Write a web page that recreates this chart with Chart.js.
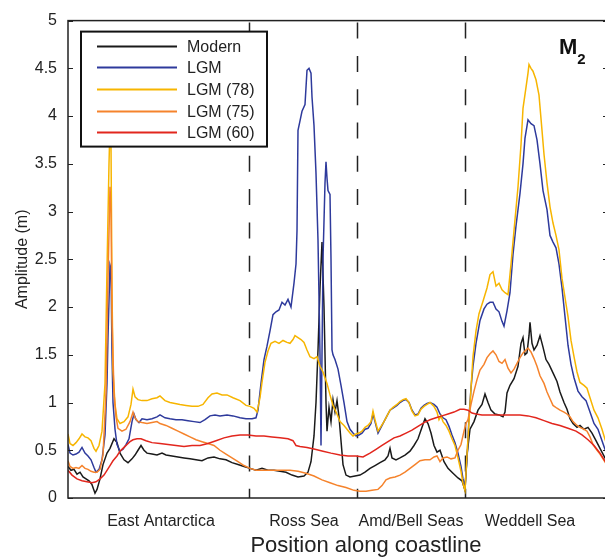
<!DOCTYPE html>
<html>
<head>
<meta charset="utf-8">
<script src="https://cdn.jsdelivr.net/npm/chart.js@4/dist/chart.umd.min.js"></script>
<style>
html, body { margin: 0; padding: 0; background: #fff; overflow: hidden; }
canvas { display: block; }
</style>
</head>
<body>
<canvas id="amplitude" width="612" height="560"></canvas>
<script>
/*------------------------------ dados ------------------------------*/

const regions = ['East Antarctica', 'Ross Sea', 'Amd/Bell Seas', 'Weddell Sea'];
const regionCenters = [93, 236, 343, 462];
const regionBounds = [181, 289, 397];

const yTicks = [0, 0.5, 1, 1.5, 2, 2.5, 3, 3.5, 4, 4.5, 5];
const yTickLabels = ['0', '0.5', '1', '1.5', '2', '2.5', '3', '3.5', '4', '4.5', '5'];

const seriesNames = ['Modern', 'LGM', 'LGM (78)', 'LGM (75)', 'LGM (60)'];

// [position along coastline, amplitude (m)]
const modern = [[0,.33],[3,.29],[6,.30],[9,.25],[12,.27],[15,.22],[18,.20],[21,.18],[24,.14],[27,.05],[29,.09],[32,.20],[35,.35],[39,.47],[42,.52],[46,.62],[49,.58],[52,.47],[56,.40],[60,.37],[64,.41],[67,.45],[70,.50],[73,.55],[76,.50],[79,.47],[84,.46],[89,.45],[94,.47],[98,.45],[104,.44],[110,.43],[116,.42],[122,.41],[128,.40],[134,.39],[140,.42],[146,.43],[152,.41],[158,.40],[164,.37],[170,.35],[176,.33],[182,.31],[188,.29],[194,.31],[200,.29],[206,.29],[212,.28],[218,.27],[224,.24],[230,.22],[236,.23],[240,.27],[243,.38],[246,.65],[248,1.0],[250,1.55],[252,2.2],[254,2.68],[256,2.0],[258,1.0],[259,.70],[261,.95],[263,.80],[265,1.03],[267,.90],[269,1.02],[271,.85],[273,.60],[275,.35],[278,.24],[282,.22],[287,.23],[292,.24],[297,.27],[302,.31],[307,.34],[312,.37],[317,.40],[320,.44],[322,.52],[324,.42],[328,.40],[332,.42],[337,.45],[342,.49],[346,.55],[350,.62],[354,.74],[357,.83],[360,.78],[363,.68],[366,.55],[369,.48],[372,.50],[376,.38],[380,.31],[385,.26],[390,.21],[394,.18],[397,.08],[399,.45],[402,.72],[406,.80],[410,.92],[414,.98],[417,1.09],[420,1.00],[423,.92],[427,.88],[431,.87],[435,.85],[437,.90],[439,1.10],[442,1.18],[446,1.25],[450,1.38],[453,1.62],[455,1.68],[457,1.50],[459,1.52],[461,1.70],[462,1.84],[464,1.62],[466,1.55],[469,1.60],[472,1.70],[475,1.58],[478,1.45],[481,1.40],[485,1.31],[489,1.22],[492,1.11],[496,1.00],[499,.93],[502,.83],[505,.78],[509,.74],[512,.76],[516,.72],[520,.74],[524,.68],[528,.60],[532,.52],[535,.46],[538,.40]];

const lgm = [[0,.56],[2,.47],[5,.45],[8,.46],[11,.48],[14,.53],[17,.47],[20,.44],[23,.40],[26,.32],[28,.27],[31,.30],[34,.40],[37,.66],[39,1.20],[40,1.69],[42,2.44],[43,2.40],[44,1.50],[45,1.00],[47,.72],[49,.56],[52,.49],[55,.51],[58,.56],[61,.62],[64,.80],[66,.88],[68,.82],[71,.79],[74,.83],[79,.82],[84,.83],[89,.85],[92,.87],[97,.84],[102,.83],[108,.82],[114,.82],[120,.81],[126,.80],[132,.79],[137,.82],[142,.86],[147,.87],[152,.86],[159,.87],[165,.86],[172,.84],[178,.83],[184,.83],[188,.84],[190,.92],[193,1.20],[196,1.45],[199,1.59],[202,1.75],[205,1.92],[208,1.95],[211,1.97],[214,2.05],[217,2.02],[220,2.08],[223,2.00],[226,2.25],[228,2.45],[229,2.80],[230,3.85],[232,3.95],[234,4.05],[237,4.12],[239,4.48],[241,4.50],[243,4.45],[244,4.20],[246,3.90],[248,3.40],[250,2.70],[252,1.50],[253,.55],[254,1.50],[255,2.50],[257,3.30],[258,3.52],[259,3.35],[260,3.22],[262,3.18],[263,2.50],[264,1.55],[265,1.50],[267,1.45],[270,1.35],[273,1.18],[276,1.00],[279,.80],[282,.72],[285,.68],[288,.65],[291,.66],[294,.68],[297,.72],[300,.73],[303,.78],[305,.88],[307,.80],[310,.68],[313,.74],[316,.80],[319,.86],[322,.92],[325,.94],[329,.97],[332,1.00],[335,1.02],[338,1.03],[341,1.00],[344,.92],[347,.87],[350,.88],[353,.94],[356,.97],[359,.99],[362,1.00],[366,.98],[369,.95],[372,.88],[375,.84],[378,.82],[381,.75],[384,.66],[387,.58],[390,.47],[393,.33],[395,.20],[397,.12],[399,.40],[401,.85],[403,1.15],[405,1.38],[408,1.62],[412,1.86],[416,1.98],[419,2.03],[422,2.05],[425,2.05],[428,1.98],[431,1.95],[434,1.85],[436,1.80],[439,1.96],[442,2.15],[445,2.55],[448,2.85],[452,3.19],[455,3.50],[457,3.77],[460,3.96],[463,3.92],[466,3.90],[469,3.75],[472,3.50],[475,3.22],[479,3.02],[482,2.75],[485,2.68],[488,2.62],[491,2.45],[494,2.20],[497,1.90],[500,1.60],[503,1.40],[506,1.26],[510,1.12],[514,1.06],[518,1.02],[522,.90],[526,.78],[530,.72],[534,.60],[538,.48]];

const lgm78 = [[0,.67],[2,.57],[5,.55],[8,.58],[11,.62],[14,.67],[17,.64],[20,.63],[23,.60],[26,.52],[28,.49],[31,.55],[34,.70],[37,1.20],[39,2.40],[41,3.50],[42,3.90],[43,3.70],[44,2.20],[45,1.34],[47,.98],[49,.83],[52,.78],[56,.80],[60,.85],[63,.98],[65,1.14],[67,1.06],[70,1.03],[74,1.02],[79,1.02],[84,1.04],[89,1.05],[92,1.07],[97,1.02],[102,1.00],[107,.99],[112,.98],[118,.97],[124,.96],[130,.96],[135,.98],[140,1.05],[144,1.09],[149,1.10],[154,1.08],[159,1.08],[165,1.05],[172,1.02],[178,.97],[182,.96],[186,.94],[189,.90],[192,1.05],[194,1.21],[197,1.42],[200,1.54],[203,1.62],[207,1.64],[211,1.62],[215,1.65],[219,1.63],[222,1.62],[225,1.66],[227,1.70],[230,1.68],[233,1.66],[236,1.63],[239,1.55],[242,1.48],[246,1.46],[249,1.48],[252,1.38],[255,1.32],[259,1.20],[262,1.08],[265,.97],[269,.88],[272,.80],[276,.76],[279,.72],[282,.68],[285,.65],[288,.67],[291,.68],[294,.70],[297,.74],[300,.76],[303,.80],[305,.91],[307,.82],[310,.70],[313,.75],[316,.80],[319,.86],[322,.92],[325,.95],[329,.98],[332,1.01],[335,1.03],[338,1.04],[341,1.00],[344,.91],[347,.86],[350,.87],[353,.93],[356,.96],[359,.98],[362,1.00],[366,.96],[369,.90],[371,.82],[373,.86],[375,.80],[378,.76],[381,.70],[384,.62],[387,.55],[390,.42],[393,.28],[395,.15],[397,.08],[399,.45],[401,.80],[403,1.15],[405,1.48],[408,1.75],[411,1.93],[415,2.06],[419,2.20],[422,2.34],[425,2.37],[428,2.22],[431,2.25],[434,2.18],[437,2.15],[440,2.13],[443,2.45],[446,2.80],[450,3.26],[453,3.70],[455,4.08],[458,4.30],[460,4.45],[461,4.54],[463,4.50],[465,4.47],[468,4.38],[471,4.22],[474,3.85],[476,3.60],[479,3.30],[482,3.05],[485,2.88],[488,2.75],[491,2.60],[494,2.30],[497,2.10],[500,1.90],[503,1.65],[506,1.48],[509,1.32],[512,1.21],[516,1.18],[519,1.15],[522,1.05],[526,.92],[530,.84],[534,.72],[538,.58]];

const lgm75 = [[0,.39],[2,.33],[5,.31],[8,.32],[11,.31],[14,.34],[17,.31],[20,.30],[23,.28],[26,.27],[29,.27],[32,.30],[35,.45],[38,1.10],[40,2.30],[42,3.26],[43,3.00],[44,1.90],[46,1.10],[48,.85],[50,.73],[54,.70],[58,.72],[62,.80],[65,.90],[67,.84],[70,.80],[74,.79],[79,.78],[84,.79],[89,.80],[92,.78],[98,.76],[104,.73],[110,.70],[116,.67],[122,.64],[128,.61],[134,.59],[140,.57],[146,.55],[152,.50],[158,.46],[164,.42],[170,.38],[176,.34],[182,.31],[188,.29],[194,.29],[200,.29],[207,.29],[214,.29],[222,.29],[230,.28],[238,.26],[246,.23],[254,.19],[262,.16],[270,.13],[278,.11],[286,.08],[292,.07],[298,.07],[304,.08],[310,.09],[314,.13],[318,.19],[322,.21],[327,.22],[332,.24],[337,.27],[342,.31],[347,.35],[352,.39],[357,.40],[362,.40],[366,.43],[369,.44],[372,.38],[375,.42],[379,.43],[383,.41],[387,.42],[390,.50],[393,.56],[396,.70],[398,.78],[400,.82],[403,.98],[406,1.12],[409,1.24],[412,1.34],[416,1.40],[419,1.47],[422,1.51],[425,1.54],[428,1.50],[431,1.43],[434,1.41],[437,1.45],[440,1.36],[443,1.31],[446,1.35],[449,1.41],[452,1.47],[455,1.52],[458,1.55],[460,1.57],[463,1.53],[466,1.46],[469,1.38],[472,1.28],[476,1.20],[479,1.11],[482,1.04],[485,.97],[489,.94],[492,.92],[496,.90],[499,.88],[502,.85],[505,.80],[509,.76],[512,.74],[516,.72],[519,.70],[522,.64],[525,.56],[529,.50],[532,.46],[535,.41],[538,.36]];

const lgm60 = [[0,.29],[4,.24],[9,.20],[14,.18],[19,.17],[24,.16],[28,.17],[32,.20],[36,.24],[39,.29],[42,.34],[45,.39],[49,.44],[52,.49],[56,.53],[59,.56],[62,.59],[65,.61],[69,.62],[73,.62],[78,.60],[84,.58],[92,.57],[100,.56],[108,.55],[116,.54],[124,.55],[132,.55],[140,.57],[148,.60],[156,.63],[164,.65],[172,.66],[180,.66],[188,.65],[196,.65],[204,.64],[212,.63],[220,.62],[225,.60],[228,.55],[232,.54],[239,.53],[247,.51],[255,.49],[263,.47],[272,.45],[280,.44],[288,.44],[295,.43],[302,.47],[308,.51],[314,.55],[320,.59],[326,.63],[332,.65],[338,.68],[344,.71],[350,.75],[356,.79],[362,.82],[368,.84],[374,.86],[380,.88],[386,.90],[392,.93],[396,.93],[400,.92],[404,.89],[408,.88],[414,.87],[422,.87],[432,.87],[442,.87],[452,.87],[460,.86],[468,.84],[476,.81],[484,.78],[492,.76],[500,.73],[508,.70],[514,.66],[520,.61],[526,.55],[532,.47],[538,.37]];

const xTitle = 'Position along coastline';
const yTitle = 'Amplitude (m)';
const panelLabel = ['M', '2'];

/*------------------------------ gráfico ------------------------------*/

const fontFamily = '"Liberation Sans", Arial, Helvetica, sans-serif';
const ink = '#222';

function toPoints(arr) {
    return arr.map(p => ({ x: p[0], y: p[1] }));
}

const decor = {
    id: 'decor',
    beforeDatasetsDraw(chart) {
        const { ctx, chartArea: a, scales: { x } } = chart;
        ctx.save();
        ctx.strokeStyle = ink;
        ctx.lineWidth = 1.5;
        ctx.setLineDash([16, 17.3]);
        regionBounds.forEach(b => {
            const px = Math.round(x.getPixelForValue(b)) + 0.5;
            ctx.beginPath();
            ctx.moveTo(px, a.top + 2);
            ctx.lineTo(px, a.bottom);
            ctx.stroke();
        });
        ctx.restore();
    },
    afterDraw(chart) {
        const { ctx, chartArea: a, scales: { y } } = chart;
        ctx.save();

        // caixa dos eixos
        ctx.strokeStyle = ink;
        ctx.lineWidth = 1.5;
        ctx.strokeRect(a.left, a.top, a.right - a.left, a.bottom - a.top);
        ctx.beginPath();
        yTicks.forEach(v => {
            const py = Math.round(y.getPixelForValue(v)) + 0.5;
            ctx.moveTo(a.left, py); ctx.lineTo(a.left + 5, py);
            ctx.moveTo(a.right - 5, py); ctx.lineTo(a.right, py);
        });
        ctx.lineWidth = 1;
        ctx.stroke();

        // legenda
        const L = a.left + 13, T = a.top + 11, W = 186, H = 115;
        ctx.fillStyle = '#fff';
        ctx.fillRect(L, T, W, H);
        ctx.lineWidth = 2;
        ctx.strokeStyle = '#111';
        ctx.strokeRect(L, T, W, H);
        ctx.font = '16px ' + fontFamily;
        ctx.textBaseline = 'middle';
        ctx.textAlign = 'left';
        chart.data.datasets.forEach((ds, i) => {
            const ly = Math.round(T + 14 + i * 21.7) + 0.5;
            ctx.strokeStyle = ds.borderColor;
            ctx.lineWidth = 2;
            ctx.beginPath();
            ctx.moveTo(L + 16, ly);
            ctx.lineTo(L + 96, ly);
            ctx.stroke();
            ctx.fillStyle = ink;
            ctx.fillText(ds.label, L + 106, ly + 1);
        });

        // M2
        ctx.fillStyle = '#111';
        ctx.textBaseline = 'alphabetic';
        ctx.font = 'bold 22px ' + fontFamily;
        const mx = a.right - 49;
        ctx.fillText(panelLabel[0], mx, a.top + 33);
        const mw = ctx.measureText(panelLabel[0]).width;
        ctx.font = 'bold 15px ' + fontFamily;
        ctx.fillText(panelLabel[1], mx + mw, a.top + 43);

        // título do eixo x
        ctx.fillStyle = ink;
        ctx.font = '22px ' + fontFamily;
        ctx.textAlign = 'center';
        ctx.textBaseline = 'middle';
        ctx.fillText(xTitle, a.left + 298, chart.height - 14);

        ctx.restore();
    }
};

const ctx = document.getElementById('amplitude').getContext('2d');
const chart = new Chart(ctx, {
    type: 'line',
    data: {
        datasets: [
            { label: seriesNames[0], data: toPoints(modern), borderColor: '#1a1a1a', order: 4 },
            { label: seriesNames[1], data: toPoints(lgm), borderColor: '#2e3a9c', order: 3 },
            { label: seriesNames[2], data: toPoints(lgm78), borderColor: '#f7b500', order: 2 },
            { label: seriesNames[3], data: toPoints(lgm75), borderColor: '#f5832c', order: 1 },
            { label: seriesNames[4], data: toPoints(lgm60), borderColor: '#e2261d', order: 0 }
        ]
    },
    options: {
        responsive: false,
        animation: false,
        devicePixelRatio: 1,
        layout: { padding: { top: 10, right: 4, left: 0, bottom: 0 } },
        elements: {
            point: { radius: 0 },
            line: { borderWidth: 1.5, tension: 0, fill: false }
        },
        plugins: {
            legend: { display: false },
            tooltip: { enabled: false }
        },
        scales: {
            x: {
                type: 'linear',
                min: 0,
                max: 540,
                afterBuildTicks: (scale) => {
                    scale.ticks = regionCenters.map(v => ({ value: v }));
                },
                afterFit: (scale) => { scale.height = 62; },
                ticks: {
                    autoSkip: false,
                    maxRotation: 0,
                    padding: 14,
                    color: ink,
                    font: { family: fontFamily, size: 16 },
                    callback: (v, i) => regions[i]
                },
                grid: { display: false, drawTicks: false },
                border: { display: false }
            },
            y: {
                type: 'linear',
                min: 0,
                max: 5,
                afterBuildTicks: (scale) => {
                    scale.ticks = yTicks.map(v => ({ value: v }));
                },
                afterFit: (scale) => { scale.width = 68; },
                ticks: {
                    padding: 11,
                    color: ink,
                    font: { family: fontFamily, size: 16 },
                    callback: (v, i) => yTickLabels[i]
                },
                title: {
                    display: true,
                    text: yTitle,
                    color: ink,
                    font: { family: fontFamily, size: 16 },
                    padding: { top: 13, bottom: 0 }
                },
                grid: { display: false, drawTicks: false },
                border: { display: false }
            }
        }
    },
    plugins: [decor]
});
</script>
</body>
</html>
